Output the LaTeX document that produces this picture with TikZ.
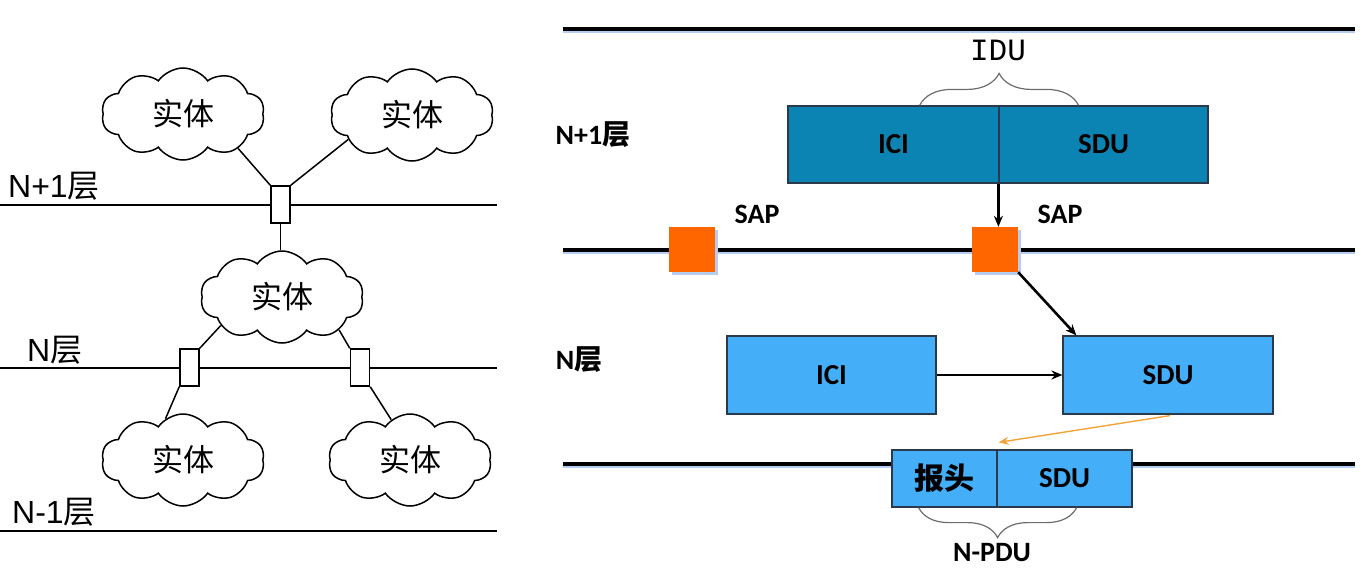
\documentclass[tikz,border=0pt]{standalone}
\usepackage{fontspec}
\setmainfont{Liberation Sans}
\newfontfamily\cjk{Noto Sans CJK SC}
\newfontfamily\carl{Carlito}
\newfontfamily\idufont{Liberation Mono}
\usetikzlibrary{shapes.symbols,arrows.meta,decorations.pathreplacing,calc,shadows}
\definecolor{tealbox}{HTML}{0B84B4}
\definecolor{lightbox}{HTML}{44AEF8}
\definecolor{sapcol}{HTML}{FF6600}
\definecolor{shadowblue}{HTML}{B4CDF0}
\definecolor{arrorange}{HTML}{F2A33A}
\definecolor{boxedge}{HTML}{2B3A4A}
\begin{document}
\begin{tikzpicture}[x=1pt,y=-1pt,
  entity/.style={cloud, cloud puffs=10, cloud puff arc=110, cloud ignores aspect, draw, line width=1.5pt,
    minimum width=163pt, minimum height=92pt, inner sep=0pt, font=\cjk\fontsize{31}{31}\selectfont},
  smallbox/.style={draw, fill=white, line width=1.5pt, minimum width=19pt, minimum height=37pt, inner sep=0pt},
  leftlabel/.style={font=\fontsize{32}{32}\selectfont, anchor=base west, inner sep=0pt},
  conn/.style={line width=1.5pt},
  rline/.style={line width=3.2pt},
  rshadow/.style={line width=3pt, shadowblue},
  databox/.style={draw=boxedge, line width=1.2pt, inner sep=0pt, font=\carl\bfseries\fontsize{29}{29}\selectfont},
  sapbox/.style={fill=sapcol, minimum width=46pt, minimum height=45pt, inner sep=0pt,
    drop shadow={shadow xshift=3pt, shadow yshift=-3pt, fill=shadowblue, opacity=1}},
  rlabel/.style={font=\carl\bfseries\fontsize{28}{28}\selectfont, inner sep=0pt},
  blackarrow/.style={line width=2.6pt, -{Stealth[length=11pt,width=9pt]}},
  bracestyle/.style={decorate, line width=1.2pt, draw=gray!85!black}
]
\useasboundingbox (0,0) rectangle (1363,581);

% ---------------- left part ----------------
\draw[conn] (0,205) -- (497,205);
\draw[conn] (0,368) -- (497,368);
\draw[conn] (0,531) -- (497,531);

\node[leftlabel] (ln1) at (8,197) {N+1{\cjk 层}};
\node[leftlabel] (ln0) at (27,361) {N{\cjk 层}};
\node[leftlabel] (lnm) at (12,523) {N-1{\cjk 层}};

\node[entity] (c1) at (183,114) {实体};
\node[entity] (c2) at (412,115) {实体};
\node[entity] (c3) at (282,297) {实体};
\node[entity] (c4) at (183,460) {实体};
\node[entity] (c5) at (410,460) {实体};

\node[smallbox] (b1) at (280.5,204.5) {};
\node[smallbox] (b2) at (189.5,367.5) {};
\node[smallbox] (b3) at (360,367.5) {};

\draw[conn] (c1.-32) -- (b1.north west);
\draw[conn] (c2.201) -- (b1.north east);
\draw[conn] (b1.south) -- (b1.south |- c3.north);
\draw[conn] (c3.205) -- (b2.north east);
\draw[conn] (c3.-30) -- (b3.north west);
\draw[conn] (b2.south west) -- (c4.113);
\draw[conn] (b3.south east) -- (c5.115);

% ---------------- right part ----------------
\draw[rshadow] (563,31.5) -- (1355,31.5);
\draw[rline] (563,29) -- (1355,29);
\draw[rshadow] (563,252.5) -- (1355,252.5);
\draw[rline] (563,250) -- (1355,250);
\draw[rshadow] (563,466.5) -- (1355,466.5);
\draw[rline] (563,464) -- (1355,464);

\node[rlabel] (rn1) at (593,135) {N+1{\cjk\bfseries 层}};
\node[rlabel] (rn0) at (579,360) {N{\cjk\bfseries 层}};

\node[databox, fill=tealbox, minimum width=211pt, minimum height=77pt] (ici1) at (893.5,144.5) {ICI};
\node[databox, fill=tealbox, minimum width=209pt, minimum height=77pt] (sdu1) at (1103.5,144.5) {SDU};

\draw[bracestyle, decoration={brace, amplitude=32pt}] ($(ici1.north east)+(-80,0)$) -- ($(ici1.north east)+(79,0)$);
\node[font=\idufont\fontsize{31}{31}\selectfont, inner sep=0pt] (idu) at (998,50) {IDU};

\node[sapbox] (sapL) at (692,249.5) {};
\node[sapbox] (sapR) at (995,249.5) {};
\node[rlabel] (sapLt) at (757,214) {SAP};
\node[rlabel] (sapRt) at (1060,214) {SAP};

\node[databox, fill=lightbox, minimum width=209pt, minimum height=78pt] (ici2) at (831.5,375) {ICI};
\node[databox, fill=lightbox, minimum width=210pt, minimum height=78pt] (sdu2) at (1168,375) {SDU};

\node[databox, fill=lightbox, minimum width=105pt, minimum height=57pt, font=\cjk\bfseries\fontsize{30}{30}\selectfont] (hdr) at (944.5,478.5) {报头};
\node[databox, fill=lightbox, minimum width=135pt, minimum height=57pt] (sdu3) at (1064.5,478.5) {SDU};

\draw[bracestyle, decoration={brace, amplitude=30pt}] ($(hdr.south east)+(79,0)$) -- ($(hdr.south east)+(-79,0)$);
\node[rlabel] (npdu) at (992,553) {N-PDU};

\draw[blackarrow] (sdu1.south west) -- (sdu1.south west |- sapR.north);
\draw[blackarrow] (sapR.south east) -- ($(sdu2.north west)+(14,0)$);
\draw[blackarrow] (ici2.east) -- (sdu2.west);
\draw[line width=1.4pt, arrorange, -{Stealth[length=10pt,width=8pt]}] ($(sdu2.south)+(2,1)$) -- ($(hdr.north east)+(1,-7)$);
\end{tikzpicture}
\end{document}
